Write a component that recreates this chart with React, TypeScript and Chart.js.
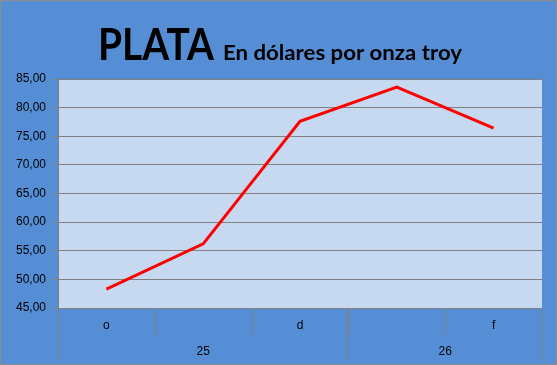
import React, { useEffect, useRef } from 'react';
import { Chart, registerables } from 'chart.js';

Chart.register(...registerables);

const categories = ['o', 'n', 'd', 'e', 'f'];
const monthLabels = ['o', '', 'd', '', 'f'];
const yearLabels = ['25', '26'];
const yearSpans = [3, 2];
const prices = [48.3, 56.2, 77.6, 83.6, 76.4];
const yMin = 45;
const yMax = 85;
const yStep = 5;
const titleMain = 'PLATA';
const titleSub = 'En dólares por onza troy';

const BG = '#558ED5';
const PLOT_BG = '#C6D9F1';
const GRID = '#808080';

const bgPlugin = {
  id: 'bgPlugin',
  beforeDraw(chart: any) {
    const { ctx, chartArea: a } = chart;
    ctx.save();
    ctx.fillStyle = BG;
    ctx.fillRect(0, 0, chart.width, chart.height);
    ctx.fillStyle = PLOT_BG;
    ctx.fillRect(a.left, a.top, a.right - a.left, a.bottom - a.top);
    ctx.restore();
  },
  afterDraw(chart: any) {
    const { ctx } = chart;
    ctx.save();
    ctx.strokeStyle = '#8C8C8C';
    ctx.lineWidth = 1;
    ctx.strokeRect(0.5, 0.5, chart.width - 1, chart.height - 1);
    ctx.restore();
  },
};

const titlePlugin = {
  id: 'titlePlugin',
  afterDraw(chart: any) {
    const { ctx } = chart;
    ctx.save();
    ctx.fillStyle = '#000';
    ctx.textBaseline = 'alphabetic';
    ctx.textAlign = 'left';
    const baseline = 60;
    const drawFit = (text: string, font: string, x: number, target: number) => {
      ctx.font = font;
      const w = ctx.measureText(text).width;
      const sx = target / w;
      ctx.save();
      ctx.translate(x, baseline);
      ctx.scale(sx, 1);
      ctx.fillText(text, 0, 0);
      ctx.restore();
    };
    drawFit(titleMain, 'bold 43px Lato', 98, 116);
    drawFit(titleSub, 'bold 21px Lato', 223, 239);
    ctx.restore();
  },
};

const tablePlugin = {
  id: 'tablePlugin',
  afterDraw(chart: any) {
    const { ctx, chartArea: a } = chart;
    const xs = chart.scales.x;
    const n = categories.length;
    const cw = (a.right - a.left) / n;
    const bottom = a.bottom;
    const row1 = bottom + 26;
    const row2 = bottom + 52;
    ctx.save();
    ctx.strokeStyle = GRID;
    ctx.lineWidth = 1;
    ctx.beginPath();
    for (let i = 1; i < n; i++) {
      const x = Math.round(xs.getPixelForValue(i) - cw / 2) + 0.5;
      ctx.moveTo(x, bottom);
      ctx.lineTo(x, row1);
    }
    let idx = 0;
    const edges = [Math.round(a.left) + 0.5];
    yearSpans.forEach((s) => {
      idx += s;
      edges.push(Math.round(xs.getPixelForValue(idx - 1) + cw / 2) - 0.5);
    });
    edges.forEach((x) => {
      ctx.moveTo(x, bottom);
      ctx.lineTo(x, row2);
    });
    ctx.stroke();

    ctx.fillStyle = '#000';
    ctx.font = '12px "Liberation Sans"';
    ctx.textAlign = 'center';
    ctx.textBaseline = 'middle';
    monthLabels.forEach((lab, i) => {
      if (lab) ctx.fillText(lab, xs.getPixelForValue(i), bottom + 18);
    });
    let start = 0;
    yearLabels.forEach((lab, g) => {
      const end = start + yearSpans[g] - 1;
      const x0 = xs.getPixelForValue(start) - cw / 2;
      const x1 = xs.getPixelForValue(end) + cw / 2;
      ctx.fillText(lab, (x0 + x1) / 2, bottom + 44);
      start = end + 1;
    });
    ctx.restore();
  },
};

export default function App() {
  const ref = useRef<HTMLCanvasElement>(null);
  useEffect(() => {
    document.body.style.margin = '0';
    const chart = new Chart(ref.current!, {
      type: 'line',
      data: {
        labels: categories,
        datasets: [
          {
            data: prices,
            borderColor: '#FF0000',
            borderWidth: 3,
            pointRadius: 0,
            tension: 0,
            fill: false,
          },
        ],
      },
      options: {
        responsive: false,
        animation: false,
        layout: { padding: { top: 79, right: 15, left: 0, bottom: 0 } },
        plugins: {
          legend: { display: false },
          title: { display: false },
          tooltip: { enabled: false },
        },
        scales: {
          x: {
            type: 'category',
            offset: true,
            grid: { display: false },
            border: { display: false },
            ticks: { display: false },
            afterFit: (s: any) => {
              s.height = 57;
            },
          },
          y: {
            min: yMin,
            max: yMax,
            ticks: {
              stepSize: yStep,
              color: '#000',
              font: { family: '"Liberation Sans"', size: 12 },
              padding: 7,
              callback: (v: any) => Number(v).toFixed(2).replace('.', ','),
            },
            grid: { color: GRID, lineWidth: 1, tickLength: 5 },
            border: { color: GRID, width: 1 },
            afterFit: (s: any) => {
              s.width = 58;
            },
          },
        },
      },
      plugins: [bgPlugin, tablePlugin, titlePlugin],
    } as any);
    return () => chart.destroy();
  }, []);
  return <canvas ref={ref} width={557} height={365} style={{ display: 'block' }} />;
}
